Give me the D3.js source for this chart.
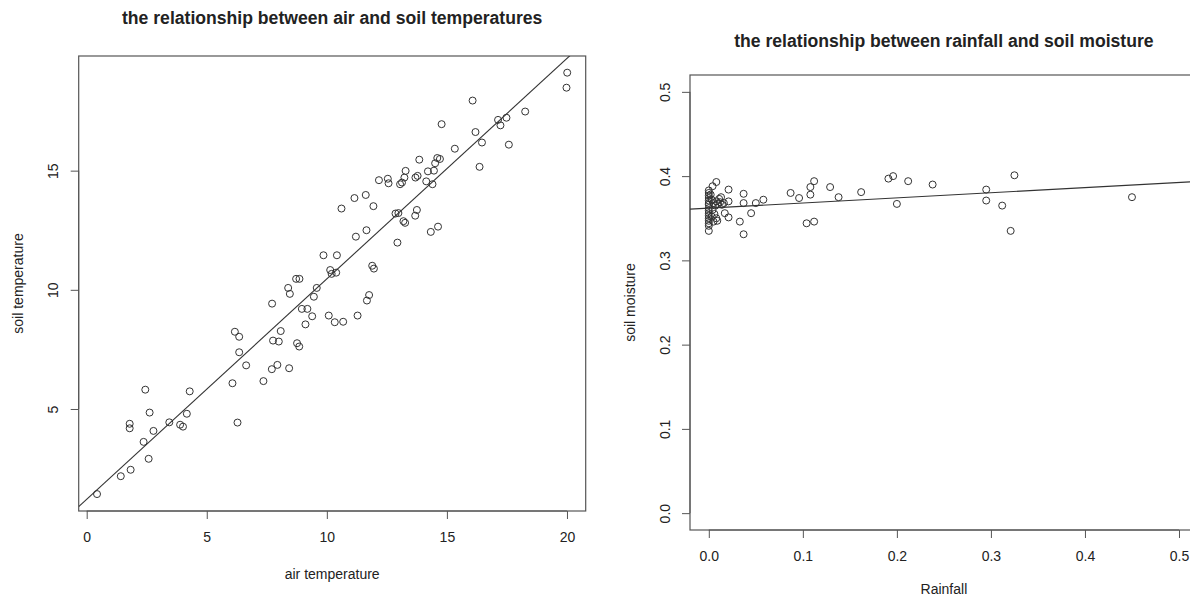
<!DOCTYPE html>
<html><head><meta charset="utf-8">
<script src="https://cdn.jsdelivr.net/npm/d3@7"></script>
<style>body{margin:0;background:#fff;} text{font-family:"Liberation Sans",Arial,sans-serif;fill:#222;}</style>
</head><body><div id="chart"></div>
<script>
// Left: air temperature vs soil temperature
const airTemp = [0.43,1.42,1.83,2.58,2.37,2.78,1.79,1.79,2.62,2.44,3.44,3.89,4.01,4.17,4.29,6.28,6.07,
 6.17,6.35,6.35,6.64,7.36,7.72,7.76,8.0,8.08,7.71,7.94,8.43,8.39,8.46,8.72,8.86,8.76,8.85,8.96,9.19,9.11,9.39,9.46,9.58,10.14,10.08,
 10.2,10.39,10.33,10.68,11.28,11.67,11.76,11.89,11.96,
 9.86,10.42,12.94,11.21,11.65,14.33,14.63,12.86,12.98,13.19,13.26,13.68,13.75,10.61,11.15,11.62,11.94,12.17,12.54,12.57,
 13.05,13.13,13.23,13.28,13.69,13.78,13.85,14.14,14.21,14.40,14.46,14.51,14.60,14.71,14.78,15.33,16.07,16.19,16.46,16.36,
 17.13,17.23,17.48,17.58,18.26,20.01,19.98];
const soilTemp = [1.43,2.18,2.45,2.91,3.62,4.08,4.38,4.19,4.85,5.81,4.44,4.34,4.26,4.80,5.74,4.43,6.08,
 8.24,8.03,7.38,6.83,6.17,9.42,7.87,7.83,8.27,6.67,6.85,6.71,10.08,9.83,10.46,10.46,7.76,7.62,9.20,9.20,8.55,8.89,9.71,10.08,10.83,8.92,
 10.67,10.72,8.64,8.66,8.92,9.55,9.78,11.01,10.89,
 11.45,11.45,11.98,12.23,12.50,12.43,12.65,13.20,13.22,12.88,12.81,13.11,13.35,13.41,13.85,13.98,13.51,14.60,14.66,14.47,
 14.43,14.50,14.71,14.99,14.71,14.78,15.46,14.55,14.97,14.43,15.0,15.31,15.53,15.49,16.95,15.92,17.94,16.62,16.18,15.16,
 17.13,16.90,17.22,16.09,17.48,19.11,18.48];
const fitLeft = [1.21, 0.925]; // intercept, slope
const xTicksLeft = [0,5,10,15,20];
const yTicksLeft = [5,10,15];

// Right: rainfall vs soil moisture
const rainfall = [0,0,0,0,0,0,0,0,0,0,0,0,0,0,0,0,
 0.003,0.005,0.007,0.008,0.010,0.012,0.014,0.004,0.006,0.003,0.005,0.008,0.002,0.011,0.016,
 0.004,0.008,0.009,0.013,0.017,0.021,0.021,0.021,0.033,0.037,0.037,0.037,0.045,0.050,0.058,
 0.087,0.096,0.104,0.108,0.108,0.112,0.112,0.129,0.138,0.162,0.191,0.196,0.200,0.212,0.238,
 0.295,0.295,0.312,0.321,0.325,0.450];
const moisture = [0.383,0.380,0.377,0.374,0.371,0.368,0.366,0.362,0.359,0.356,0.353,0.350,0.347,0.344,0.341,0.335,
 0.372,0.368,0.365,0.370,0.367,0.369,0.366,0.360,0.355,0.352,0.346,0.350,0.378,0.373,0.368,
 0.388,0.393,0.347,0.375,0.356,0.384,0.370,0.351,0.346,0.379,0.368,0.331,0.356,0.368,0.372,
 0.380,0.374,0.344,0.387,0.378,0.394,0.346,0.387,0.375,0.381,0.397,0.400,0.367,0.394,0.390,
 0.384,0.371,0.365,0.335,0.401,0.375];
const fitRight = [0.362, 0.061];
const xTicksRight = [0,0.1,0.2,0.3,0.4,0.5];
const yTicksRight = [0,0.1,0.2,0.3,0.4,0.5];

const W = 1190, H = 599;
const svg = d3.select("#chart").append("svg").attr("width", W).attr("height", H);

function panel(cfg){
  const g = svg.append("g");
  const x = d3.scaleLinear().domain(cfg.xd).range([cfg.left, cfg.right]);
  const y = d3.scaleLinear().domain(cfg.yd).range([cfg.bottom, cfg.top]);
  const clipId = cfg.id + "clip";
  svg.append("clipPath").attr("id", clipId).append("rect")
    .attr("x", cfg.left).attr("y", cfg.top).attr("width", cfg.right-cfg.left).attr("height", cfg.bottom-cfg.top);
  g.append("rect").attr("x", cfg.left).attr("y", cfg.top).attr("width", cfg.right-cfg.left).attr("height", cfg.bottom-cfg.top)
    .attr("fill","none").attr("stroke","#555").attr("stroke-width",1.2);
  const xa = g.append("g").attr("transform", `translate(0,${cfg.bottom})`)
    .call(d3.axisBottom(x).tickValues(cfg.xt).tickSize(8).tickFormat(cfg.xf).tickPadding(13));
  xa.select(".domain").attr("d", `M${x(cfg.xt[0])},0H${x(cfg.xt[cfg.xt.length-1])}`).attr("stroke","#555");
  xa.selectAll(".tick line").attr("stroke","#555");
  xa.selectAll("text").attr("font-size",14).attr("fill","#222").style("font-family","Liberation Sans, Arial");
  const ya = g.append("g").attr("transform", `translate(${cfg.left},0)`)
    .call(d3.axisLeft(y).tickValues(cfg.yt).tickSize(8).tickFormat(cfg.yf));
  ya.select(".domain").attr("d", `M0,${y(cfg.yt[0])}V${y(cfg.yt[cfg.yt.length-1])}`).attr("stroke","#555");
  ya.selectAll(".tick line").attr("stroke","#555");
  ya.selectAll(".tick text").attr("x",null).attr("dy",null)
    .attr("transform", `translate(${cfg.ylabX},0) rotate(-90)`).attr("text-anchor","middle")
    .attr("dominant-baseline","central")
    .attr("font-size",14).attr("fill","#222").style("font-family","Liberation Sans, Arial");
  const x0 = cfg.xd[0], x1 = cfg.xd[1];
  g.append("line").attr("clip-path",`url(#${clipId})`)
    .attr("x1", x(x0)).attr("y1", y(cfg.fit[0]+cfg.fit[1]*x0))
    .attr("x2", x(x1)).attr("y2", y(cfg.fit[0]+cfg.fit[1]*x1))
    .attr("stroke","#333").attr("stroke-width",1.1);
  g.append("g").selectAll("circle").data(cfg.xs.map((d,i)=>[d,cfg.ys[i]])).join("circle")
    .attr("cx", d=>x(d[0])).attr("cy", d=>y(d[1])).attr("r",3.5)
    .attr("fill","none").attr("stroke","#333").attr("stroke-width",1);
  const cx = (cfg.left + cfg.right) / 2;
  g.append("text").attr("x", cx).attr("y", cfg.titleY).attr("text-anchor","middle").attr("dominant-baseline","central")
    .attr("font-size",17.6).attr("font-weight","bold").text(cfg.title);
  g.append("text").attr("x", cx).attr("y", cfg.xlabY).attr("text-anchor","middle").attr("dominant-baseline","central")
    .attr("font-size",14).text(cfg.xlab);
  g.append("text").attr("transform", `translate(${cfg.ylabTitleX},${(cfg.top+cfg.bottom)/2}) rotate(-90)`)
    .attr("text-anchor","middle").attr("dominant-baseline","central").attr("font-size",14).text(cfg.ylab);
}

panel({id:"L", xs:airTemp, ys:soilTemp, fit:fitLeft, xd:[-0.333,20.78], yd:[0.72,19.81],
  left:78.7, right:585.7, top:56, bottom:511, xt:xTicksLeft, yt:yTicksLeft,
  xf:d3.format("d"), yf:d3.format("d"), ylabX:-26,
  title:"the relationship between air and soil temperatures", titleY:18,
  xlab:"air temperature", xlabY:574, ylab:"soil temperature", ylabTitleX:18});

panel({id:"R", xs:rainfall, ys:moisture, fit:fitRight, xd:[-0.02,0.52], yd:[-0.02,0.52],
  left:690, right:1197.8, top:75, bottom:530, xt:xTicksRight, yt:yTicksRight,
  xf:d3.format(".1f"), yf:d3.format(".1f"), ylabX:-25,
  title:"the relationship between rainfall and soil moisture", titleY:41,
  xlab:"Rainfall", xlabY:589, ylab:"soil moisture", ylabTitleX:630});
</script></body></html>
